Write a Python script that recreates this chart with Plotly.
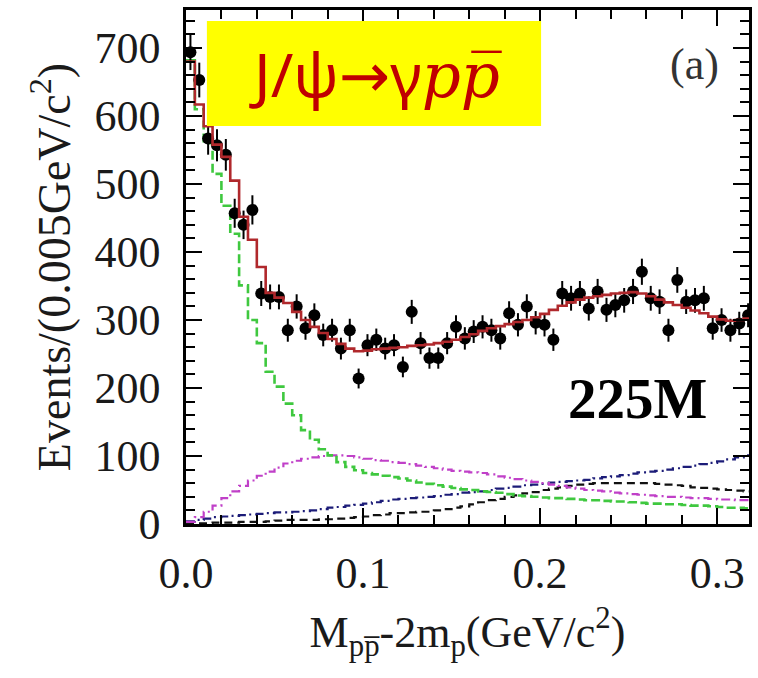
import numpy as np
import plotly.graph_objects as go

# Binning: 0.005 GeV/c^2 per bin, starting at threshold
BIN_WIDTH = 0.005
N_BINS = 64

# Observed events per bin
data_counts = [694, 653, 567, 557, 543, 457, 440, 462, 339, 334,
               334, 285, 320, 288, 307, 278, 285, 258, 285, 214,
               263, 271, 258, 263, 231, 312, 266, 244, 244, 266,
               290, 273, 283, 290, 285, 273, 310, 293, 320, 296,
               293, 271, 339, 332, 339, 317, 342, 315, 322, 329,
               342, 371, 332, 327, 285, 359, 327, 329, 332, 288,
               300, 285, 295, 307]

# Total fit
fit_total = [680, 617, 585, 558, 540, 505, 452, 418, 378, 340,
             333, 325, 312, 300, 290, 281, 272, 265, 258, 254,
             255, 257, 258, 259, 260, 262, 263, 264, 266, 268,
             271, 275, 279, 284, 288, 291, 294, 297, 300, 304,
             309, 315, 321, 326, 330, 333, 335, 337, 339, 340,
             341, 339, 335, 330, 326, 322, 318, 314, 310, 305,
             301, 299, 300, 302]

# Near-threshold enhancement component
signal_green = [682, 610, 560, 515, 468, 427, 351, 300, 266, 224,
                202, 177, 160, 138, 124, 110, 101, 91, 84, 79,
                75, 73, 71, 69, 67, 64, 61, 59, 57, 55,
                53, 51, 50, 48, 47, 46, 44, 42, 41, 40,
                39, 38, 38, 37, 36, 35, 35, 34, 33, 33,
                32, 31, 30, 30, 29, 29, 28, 27, 27, 26,
                25, 24, 24, 23]

# Broad component
comp_magenta = [3, 10, 18, 27, 38, 48, 56, 64, 71, 77,
                83, 89, 93, 96, 98, 100, 101, 101, 100, 98,
                96, 94, 93, 91, 90, 88, 86, 84, 82, 80,
                78, 77, 76, 75, 73, 70, 68, 66, 64, 62,
                60, 58, 56, 54, 52, 50, 49, 48, 46, 45,
                44, 43, 42, 41, 40, 40, 39, 38, 38, 37,
                36, 36, 35, 35]

# Rising background component
comp_blue = [4, 6, 8, 10, 11, 12, 13, 14, 15, 16,
             17, 17, 18, 19, 20, 22, 24, 25, 27, 28,
             30, 32, 34, 36, 37, 38, 39, 40, 41, 43,
             44, 46, 47, 48, 50, 52, 53, 55, 57, 58,
             59, 61, 62, 63, 64, 65, 67, 69, 70, 72,
             74, 76, 77, 78, 80, 82, 84, 86, 88, 90,
             92, 95, 98, 101]

# Resonance tail component
comp_black = [1, 1, 1, 2, 2, 2, 3, 3, 3, 4,
              5, 6, 6, 6, 6, 7, 7, 8, 9, 10,
              11, 13, 14, 16, 16, 17, 18, 18, 20, 22,
              24, 26, 29, 32, 35, 37, 40, 42, 45, 47,
              50, 52, 54, 56, 58, 59, 60, 60, 60, 60,
              60, 60, 60, 59, 58, 57, 56, 54, 53, 52,
              51, 50, 49, 48]

x_ticks = [0.0, 0.1, 0.2, 0.3]
x_tick_text = ["0.0", "0.1", "0.2", "0.3"]
y_ticks = [0, 100, 200, 300, 400, 500, 600, 700]

edges = np.arange(N_BINS + 1) * BIN_WIDTH
centers = edges[:-1] + BIN_WIDTH / 2


def step_xy(values):
    """Histogram outline: left edges plus closing right edge."""
    return edges, list(values) + [values[-1]]


fig = go.Figure()

# Component histograms
components = [
    (comp_black, "#111111", "8px,5px", 2.2),
    (comp_blue, "#1c1c78", "9px,4px,2px,4px", 2.2),
    (comp_magenta, "#c040c8", "9px,4px,2px,4px", 2.2),
    (signal_green, "#3fc83f", "9px,4px", 2.6),
]
for vals, col, dash, w in components:
    xs, ys = step_xy(vals)
    fig.add_trace(go.Scatter(x=xs, y=ys, mode="lines", line_shape="hv",
                             line=dict(color=col, width=w, dash=dash),
                             hoverinfo="skip", showlegend=False))

# Data points with statistical errors
fig.add_trace(go.Scatter(
    x=centers, y=data_counts, mode="markers",
    marker=dict(color="black", size=12, symbol="circle"),
    error_y=dict(type="data", array=np.sqrt(data_counts), visible=True,
                 color="black", thickness=2, width=0),
    showlegend=False))

# Total fit drawn on top
xs, ys = step_xy(fit_total)
fig.add_trace(go.Scatter(x=xs, y=ys, mode="lines", line_shape="hv",
                         line=dict(color="#b0282c", width=2.6),
                         hoverinfo="skip", showlegend=False))

axis_font = dict(family="Liberation Serif", size=44, color="#1a1a1a")

fig.update_xaxes(
    range=[0, 0.318], tickvals=x_ticks, ticktext=x_tick_text,
    ticks="inside", ticklen=16, tickwidth=2, tickcolor="black",
    minor=dict(dtick=0.02, ticks="inside", ticklen=9, tickwidth=2, tickcolor="black"),
    showline=True, linewidth=2.5, linecolor="black", mirror="ticks",
    showgrid=False, zeroline=False, tickfont=axis_font, ticklabelstandoff=8,
    title=dict(text="M<sub>pp\u0305</sub>-2m<sub>p</sub>(GeV/c<sup>2</sup>)",
               font=axis_font, standoff=20),
)
fig.update_yaxes(
    range=[0, 756], tickvals=y_ticks,
    ticks="inside", ticklen=16, tickwidth=2, tickcolor="black",
    minor=dict(dtick=20, ticks="inside", ticklen=9, tickwidth=2, tickcolor="black"),
    showline=True, linewidth=2.5, linecolor="black", mirror="ticks",
    showgrid=False, zeroline=False, tickfont=axis_font, ticklabelstandoff=14,
    title=dict(text="Events/(0.005GeV/c<sup>2</sup>)",
               font=dict(family="Liberation Serif", size=46, color="#1a1a1a"),
               standoff=10),
)

# Yellow banner with the decay channel
fig.add_shape(type="rect", xref="paper", yref="paper",
              x0=0.0371, x1=0.6307, y0=0.7743, y1=0.9786,
              fillcolor="#ffff00", line=dict(width=0), layer="above")
fig.add_annotation(
    xref="paper", yref="paper", x=0.336, y=0.8765,
    text=("J/\u03c8"
          "<span style=\"font-family:'DejaVu Sans'\">\u2192</span>"
          "\u03b3"
          "<span style=\"font-family:'DejaVu Serif'\"><i>pp\u0305</i></span>"),
    showarrow=False, xanchor="center", yanchor="middle",
    font=dict(family="Noto Sans", size=61, color="#c00000"))

fig.add_annotation(
    xref="paper", yref="paper", x=0.903, y=0.893, text="(a)",
    showarrow=False, xanchor="center", yanchor="middle",
    font=dict(family="Liberation Serif", size=44, color="#333333"))

fig.add_annotation(
    xref="paper", yref="paper", x=0.802, y=0.245, text="<b>225M</b>",
    showarrow=False, xanchor="center", yanchor="middle",
    font=dict(family="Liberation Serif", size=57, color="black"))

fig.update_layout(
    width=758, height=678,
    margin=dict(l=186, r=6, t=10, b=154),
    paper_bgcolor="white", plot_bgcolor="white",
    showlegend=False,
)

fig.write_html("out.html")
